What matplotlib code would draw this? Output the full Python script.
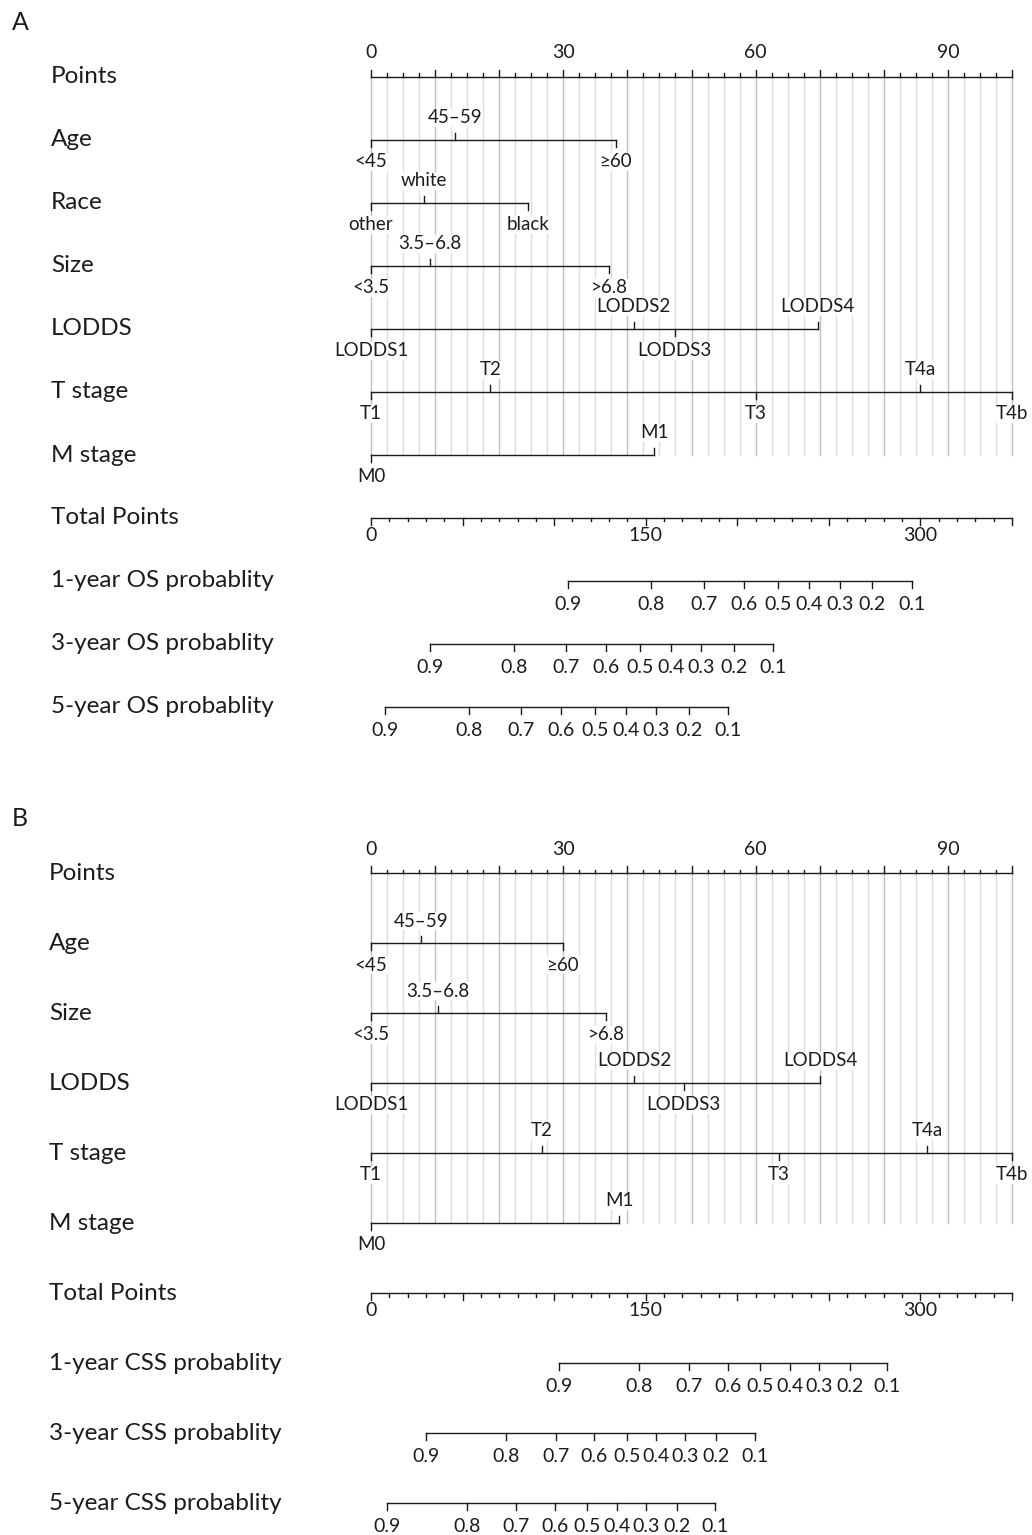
import matplotlib
matplotlib.use("Agg")
import matplotlib.pyplot as plt
from matplotlib.transforms import blended_transform_factory
import numpy as np

plt.rcParams['font.family'] = ['Lato', 'DejaVu Sans']

# ---------------- data: panel A (OS) ----------------
a_age_lab = ['<45', '45–59', '≥60']
a_age_pts = [0, 13.1, 38.2]
a_race_lab = ['other', 'white', 'black']
a_race_pts = [0, 8.2, 24.5]
a_size_lab = ['<3.5', '3.5–6.8', '>6.8']
a_size_pts = [0, 9.2, 37.2]
a_lodds_lab = ['LODDS1', 'LODDS2', 'LODDS3', 'LODDS4']
a_lodds_pts = [0, 41.0, 47.4, 69.7]
a_t_lab = ['T1', 'T2', 'T3', 'T4a', 'T4b']
a_t_pts = [0, 18.6, 60.0, 85.7, 100]
a_m_lab = ['M0', 'M1']
a_m_pts = [0, 44.2]

prob_labels = ['0.9', '0.8', '0.7', '0.6', '0.5', '0.4', '0.3', '0.2', '0.1']
a_os1_tp = [107.5, 153.1, 181.8, 203.5, 222.3, 239.4, 255.9, 273.5, 295.2]
a_os3_tp = [32.4, 78.0, 106.5, 128.2, 146.7, 163.7, 180.4, 198.0, 219.7]
a_os5_tp = [7.6, 53.3, 81.7, 103.6, 122.1, 139.1, 155.8, 173.4, 194.9]

# ---------------- data: panel B (CSS) ----------------
b_age_lab = ['<45', '45–59', '≥60']
b_age_pts = [0, 7.8, 29.9]
b_size_lab = ['<3.5', '3.5–6.8', '>6.8']
b_size_pts = [0, 10.4, 36.7]
b_lodds_lab = ['LODDS1', 'LODDS2', 'LODDS3', 'LODDS4']
b_lodds_pts = [0, 41.1, 48.8, 70.1]
b_t_lab = ['T1', 'T2', 'T3', 'T4a', 'T4b']
b_t_pts = [0, 26.6, 63.6, 86.8, 100]
b_m_lab = ['M0', 'M1']
b_m_pts = [0, 38.7]

b_css1_tp = [102.8, 146.4, 173.9, 194.8, 212.4, 228.6, 244.5, 261.5, 282.0]
b_css3_tp = [29.9, 73.6, 101.0, 121.9, 139.7, 155.8, 171.6, 188.4, 209.4]
b_css5_tp = [8.6, 52.3, 79.4, 100.4, 118.0, 134.3, 150.3, 167.1, 188.1]

points_max = 100
total_max = 350
points_tick_labels = [0, 30, 60, 90]
total_tick_labels = [0, 150, 300]

# ---------------- layout ----------------
W, H = 1032, 1535
fig = plt.figure(figsize=(W / 100, H / 100), dpi=100)

LINE_C = '#1a1a1a'
TXT_C = '#1c1c1c'
LW = 1.0
NAME_FS = 17.5
TICK_FS = 14
LAB_FS = 13.5


def make_axes(row0_px, row_px, nrows):
    top_px = row0_px - 0.6 * row_px
    bot_px = row0_px + (nrows - 1 + 0.4) * row_px
    ax = fig.add_axes([371 / W, 1 - bot_px / H, 641 / W, (bot_px - top_px) / H])
    ax.set_xlim(0, points_max)
    ax.set_ylim(nrows - 1 + 0.4, -0.6)
    ax.axis('off')
    return ax


def label_text(ax, x, y, s, dy_px, fs=LAB_FS, bg=True):
    kw = dict(ha='center', va='center', fontsize=fs, color=TXT_C,
              annotation_clip=False)
    if bg:
        kw['bbox'] = dict(facecolor='white', edgecolor='none', pad=0.6)
    ax.annotate(s, (x, y), xytext=(0, -dy_px * 0.72), textcoords='offset points', **kw)


def draw_panel(ax, row_px, name_x_px, rows, gray_until):
    tr = blended_transform_factory(fig.transFigure, ax.transData)
    tk = 7 / row_px
    # gray reference lines
    for v in np.arange(0, points_max + 0.01, 2.5):
        major = abs(v % 10) < 1e-6
        ax.plot([v, v], [0, gray_until], color='#c0c0c0' if major else '#dedede',
                lw=1.0, zorder=0, clip_on=False)
    for i, row in enumerate(rows):
        kind = row[0]
        ax.text(name_x_px / W, i, row[1], transform=tr, ha='left', va='center',
                fontsize=NAME_FS, color=TXT_C)
        if kind == 'points':
            ax.plot([0, points_max], [i, i], color=LINE_C, lw=LW, clip_on=False, zorder=3)
            for v in np.arange(0, points_max + 0.01, 2.5):
                major = abs(v % 10) < 1e-6
                L = (7 if major else 3.5) / row_px
                ax.plot([v, v], [i, i - L], color=LINE_C, lw=LW, clip_on=False, zorder=3)
            for v in points_tick_labels:
                label_text(ax, v, i, str(v), -24, fs=TICK_FS, bg=False)
        elif kind == 'var':
            labs, pts = row[2], row[3]
            ax.plot([min(pts), max(pts)], [i, i], color=LINE_C, lw=LW, clip_on=False, zorder=3)
            order = np.argsort(pts)
            for k, j in enumerate(order):
                up = (k % 2 == 1)
                ax.plot([pts[j], pts[j]], [i, i - tk if up else i + tk], color=LINE_C,
                        lw=LW, clip_on=False, zorder=3)
                label_text(ax, pts[j], i, labs[j], -22 if up else 22)
        elif kind == 'total':
            sc = points_max / total_max
            ax.plot([0, total_max * sc], [i, i], color=LINE_C, lw=LW, clip_on=False)
            for v in np.arange(0, total_max + 0.01, 10):
                major = abs(v % 50) < 1e-6
                L = (7 if major else 3.5) / row_px
                ax.plot([v * sc, v * sc], [i, i + L], color=LINE_C, lw=LW, clip_on=False)
            for v in total_tick_labels:
                label_text(ax, v * sc, i, str(v), 18, fs=TICK_FS, bg=False)
        elif kind == 'prob':
            sc = points_max / total_max
            tp = np.array(row[2]) * sc
            ax.plot([tp.min(), tp.max()], [i, i], color=LINE_C, lw=LW, clip_on=False)
            for x, s in zip(tp, prob_labels):
                ax.plot([x, x], [i, i + tk], color=LINE_C, lw=LW, clip_on=False)
                label_text(ax, x, i, s, 24, fs=TICK_FS, bg=False)


# Panel A
axA = make_axes(77, 63, 11)
rowsA = [
    ('points', 'Points'),
    ('var', 'Age', a_age_lab, a_age_pts),
    ('var', 'Race', a_race_lab, a_race_pts),
    ('var', 'Size', a_size_lab, a_size_pts),
    ('var', 'LODDS', a_lodds_lab, a_lodds_pts),
    ('var', 'T stage', a_t_lab, a_t_pts),
    ('var', 'M stage', a_m_lab, a_m_pts),
    ('total', 'Total Points'),
    ('prob', '1-year OS probablity', a_os1_tp),
    ('prob', '3-year OS probablity', a_os3_tp),
    ('prob', '5-year OS probablity', a_os5_tp),
]
draw_panel(axA, 63, 51, rowsA, 6)

# Panel B
axB = make_axes(873, 70, 10)
rowsB = [
    ('points', 'Points'),
    ('var', 'Age', b_age_lab, b_age_pts),
    ('var', 'Size', b_size_lab, b_size_pts),
    ('var', 'LODDS', b_lodds_lab, b_lodds_pts),
    ('var', 'T stage', b_t_lab, b_t_pts),
    ('var', 'M stage', b_m_lab, b_m_pts),
    ('total', 'Total Points'),
    ('prob', '1-year CSS probablity', b_css1_tp),
    ('prob', '3-year CSS probablity', b_css3_tp),
    ('prob', '5-year CSS probablity', b_css5_tp),
]
draw_panel(axB, 70, 49, rowsB, 5)

fig.text(12 / W, 1 - 22 / H, 'A', fontsize=NAME_FS + 0.5, color=TXT_C, ha='left', va='center')
fig.text(12 / W, 1 - 818 / H, 'B', fontsize=NAME_FS + 0.5, color=TXT_C, ha='left', va='center')

fig.savefig('out.png', dpi=100, facecolor='white')
